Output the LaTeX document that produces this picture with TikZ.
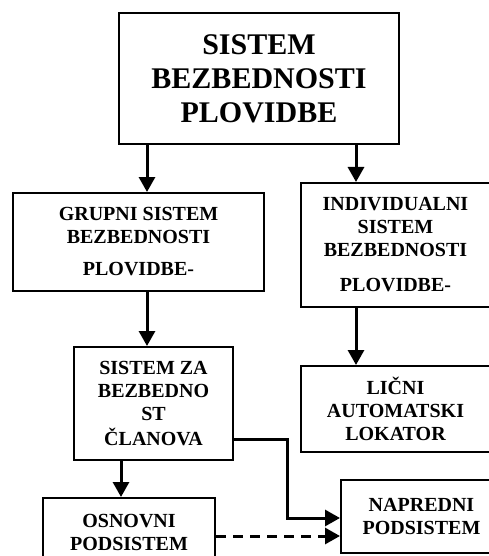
\documentclass[tikz,border=0pt]{standalone}
\usepackage{fontspec}
\setmainfont{Liberation Serif}
\usetikzlibrary{arrows.meta}

\tikzset{
  box/.style={draw, line width=2pt, inner sep=0pt, align=center,
              font=\bfseries\fontsize{20}{23}\selectfont},
  bigbox/.style={box, font=\bfseries\fontsize{30}{34}\selectfont},
  arr/.style={line width=3pt, -{Triangle[length=15pt,width=16pt]}},
  dasharr/.style={arr, dash pattern=on 10pt off 7pt}
}

\begin{document}
\begin{tikzpicture}[x=1pt,y=-1pt]
  \useasboundingbox (0,0) rectangle (489,556);

  % boxes (x: left..right, y: top..bottom)
  \node[bigbox, minimum width=280pt, minimum height=131pt] (top) at (259,78.5)
    {SISTEM\\BEZBEDNOSTI\\PLOVIDBE};
  \node[box, minimum width=251pt, minimum height=98pt] (grp) at (138.5,242)
    {GRUPNI SISTEM\\BEZBEDNOSTI\\[9pt]PLOVIDBE-};
  \node[box, minimum width=189pt, minimum height=124pt] (ind) at (395.5,245)
    {INDIVIDUALNI\\SISTEM\\BEZBEDNOSTI\\[12pt]PLOVIDBE-};
  \node[box, minimum width=159pt, minimum height=113pt] (clan) at (153.5,403.5)
    {SISTEM ZA\\BEZBEDNO\\ST\\[2pt]ČLANOVA};
  \node[box, minimum width=189pt, minimum height=86pt] (lal) at (395.5,409)
    {LIČNI\\AUTOMATSKI\\LOKATOR};
  \node[box, minimum width=172pt, minimum height=69pt] (osn) at (129,532.5)
    {OSNOVNI\\PODSISTEM};
  \node[box, minimum width=161pt, minimum height=73pt] (nap) at (421.5,516.5)
    {NAPREDNI\\PODSISTEM};

  % arrow columns
  \coordinate (cl) at (147,0);
  \coordinate (cr) at (356,0);
  \coordinate (cc) at (121,0);
  \coordinate (bend) at (287,0);

  \draw[arr] (top.south -| cl) -- (grp.north -| cl);
  \draw[arr] (top.south -| cr) -- (ind.north -| cr);
  \draw[arr] (grp.south -| cl) -- (clan.north -| cl);
  \draw[arr] (ind.south -| cr) -- (lal.north -| cr);
  \draw[arr] (clan.south -| cc) -- (osn.north -| cc);

  \coordinate (cy) at (0,439);
  \coordinate (ny) at (0,518);
  \coordinate (dy) at (0,536);
  \draw[arr] (clan.east |- cy) -- (bend |- cy) -- (bend |- ny) -- (nap.west |- ny);
  \draw[dasharr] (osn.east |- dy) -- (nap.west |- dy);
\end{tikzpicture}
\end{document}
